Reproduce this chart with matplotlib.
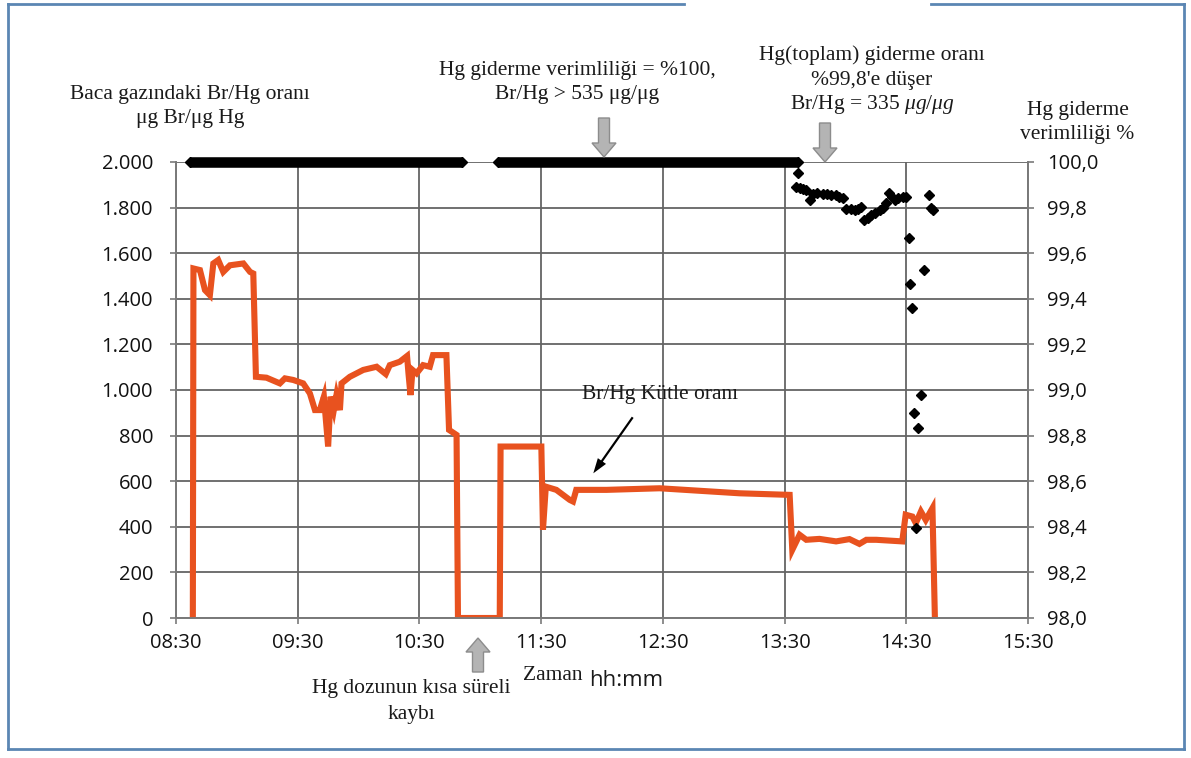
import matplotlib
matplotlib.use('Agg')
import matplotlib.pyplot as plt
from matplotlib.patches import FancyArrow
from matplotlib.lines import Line2D

# ── Data (minutes after 08:30) ───────────────────────────────────────────────
TIME_TICKS = [0, 60, 120, 180, 240, 300, 360, 420]
TIME_LABELS = ['08:30', '09:30', '10:30', '11:30', '12:30', '13:30', '14:30', '15:30']

LEFT_TICKS = [0, 200, 400, 600, 800, 1000, 1200, 1400, 1600, 1800, 2000]
LEFT_LABELS = ['0', '200', '400', '600', '800', '1.000', '1.200', '1.400',
               '1.600', '1.800', '2.000']
RIGHT_TICKS = [98.0, 98.2, 98.4, 98.6, 98.8, 99.0, 99.2, 99.4, 99.6, 99.8, 100.0]
RIGHT_LABELS = ['98,0', '98,2', '98,4', '98,6', '98,8', '99,0', '99,2', '99,4',
                '99,6', '99,8', '100,0']

# Br/Hg mass ratio (left axis)
BRHG_T = [8.3, 8.6, 11.8, 14.3, 16.7, 18.4, 20.8, 23.3, 26.6, 33.2, 36.5, 38.1,
          39.4, 44.6, 51.2, 53.7, 57.8, 62.7, 66.0, 68.5, 70.9, 72.9, 75.0, 76.2,
          77.8, 79.1, 80.8, 81.6, 85.7, 92.3, 98.9, 103.4, 105.4, 110.3, 113.9,
          114.6, 115.6, 116.6, 118.6, 121.8, 125.1, 126.7, 133.3, 134.6, 138.3,
          139.0, 159.6, 160.0, 180.1, 180.9, 182.3, 187.5, 194.1, 195.7, 197.3,
          212.2, 238.4, 277.8, 302.5, 303.8, 307.4, 310.7, 317.2, 325.4, 332.0,
          336.9, 340.3, 345.2, 358.0, 359.7, 363.0, 364.7, 367.2, 369.6, 372.9,
          374.1]
BRHG_V = [0, 1533, 1526, 1438, 1416, 1555, 1570, 1518, 1547, 1555, 1518, 1511,
          1058, 1054, 1029, 1051, 1044, 1029, 985, 912, 912, 971, 752, 971,
          912, 978, 912, 1029, 1058, 1088, 1102, 1070, 1109, 1124, 1149,
          1073, 978, 1088, 1073, 1109, 1102, 1153, 1153, 825, 803,
          0, 0, 752, 752, 387, 576, 562, 518, 511, 562,
          562, 569, 547, 540, 299, 365, 343, 347, 336, 346,
          325, 343, 343, 336, 453, 445, 416, 467, 430, 482,
          0]
TAIL_T = [374.1, 405.0]
TAIL_V = [0, 0]

# Hg removal efficiency (right axis)
BAND_START = [6.9, 158.6]
BAND_END = [141.0, 306.4]
BAND_VALUE = 100.0
EFF_T = [306.6, 305.8, 307.5, 309.0, 310.5, 312.3, 314.0, 316.0, 318.9, 321.0,
         323.0, 325.5, 327.0, 328.7, 330.4, 332.5, 334.5, 336.0, 337.8, 339.4,
         341.0, 342.7, 344.8, 346.8, 348.5, 350.1, 351.7, 353.0, 354.2, 356.0,
         358.3, 360.0, 361.2, 361.9, 362.7, 363.7, 364.9, 366.0, 367.3, 368.9,
         371.4, 372.3, 373.1]
EFF_V = [99.952, 99.89, 99.885, 99.88, 99.876, 99.832, 99.861, 99.862, 99.861, 99.858,
         99.856, 99.854, 99.848, 99.84, 99.796, 99.792, 99.79, 99.796, 99.803, 99.745,
         99.755, 99.767, 99.778, 99.788, 99.80, 99.818, 99.862, 99.845, 99.832, 99.84,
         99.847, 99.845, 99.665, 99.467, 99.358, 98.90, 98.394, 98.832, 98.978, 99.526,
         99.854, 99.80, 99.79]

# ── Style ─────────────────────────────────────────────────────────────────────
ORANGE = '#E8521F'
GRID = '#646464'
SPINE = '#7a7a7a'
SERIF = 'Liberation Serif'
SANS = 'Open Sans'

plt.rcParams['mathtext.fontset'] = 'custom'
plt.rcParams['mathtext.rm'] = SERIF
plt.rcParams['mathtext.it'] = SERIF + ':italic'

W, H = 1191, 758
fig = plt.figure(figsize=(W / 100, H / 100), dpi=100)
fig.patch.set_facecolor('white')
ax = fig.add_axes([176 / W, 1 - 618 / H, 852 / W, 456 / H])
ax2 = ax.twinx()

ax.plot(BRHG_T, BRHG_V, color=ORANGE, lw=4.4, solid_joinstyle='miter', zorder=3)
ax.plot(TAIL_T, TAIL_V, color='#8a8a8a', lw=1.2, zorder=3)

for s, e in zip(BAND_START, BAND_END):
    ax2.plot([s, e], [BAND_VALUE, BAND_VALUE], color='black', lw=7.6,
             solid_capstyle='butt', marker='D', markersize=5.4, zorder=4,
             clip_on=False)
ax2.plot(EFF_T, EFF_V, linestyle='none', marker='D', markersize=5.5,
         color='black', zorder=4, clip_on=False)

ax.set_xlim(0, 420)
ax.set_ylim(0, 2000)
ax2.set_ylim(98.0, 100.0)

ax.set_xticks(TIME_TICKS)
ax.set_xticklabels(TIME_LABELS)
ax.set_yticks(LEFT_TICKS)
ax.set_yticklabels(LEFT_LABELS)
ax2.set_yticks(RIGHT_TICKS)
ax2.set_yticklabels(RIGHT_LABELS)

ax.grid(True, color=GRID, lw=1.3)
ax.set_axisbelow(True)

for a in (ax, ax2):
    a.spines['top'].set_visible(False)
    for side in ('left', 'right', 'bottom'):
        a.spines[side].set_color(SPINE)
        a.spines[side].set_linewidth(1.3)
    a.tick_params(colors=SPINE, length=4.5, width=1.2, labelcolor='#111111',
                  labelsize=14.5)
    for lab in a.get_xticklabels() + a.get_yticklabels():
        lab.set_fontfamily(SANS)
ax.tick_params(axis='y', pad=12)
ax.tick_params(axis='x', pad=6)
ax2.tick_params(axis='y', pad=9)


# ── Annotations (figure pixel positions, measured from top) ──────────────────
def ftext(x, y, s, **kw):
    kw.setdefault('family', SERIF)
    kw.setdefault('fontsize', 15.5)
    kw.setdefault('color', '#1a1a1a')
    fig.text(x / W, 1 - y / H, s, ha=kw.pop('ha', 'center'), va='center', **kw)


def block_arrow(x, y_tail, y_tip):
    # vertical grey block arrow, pixel coords from the top edge
    arr = FancyArrow(x / 100, (H - y_tail) / 100, 0, (y_tail - y_tip) / 100,
                     width=11 / 100, head_width=24 / 100, head_length=14 / 100,
                     length_includes_head=True, transform=fig.dpi_scale_trans,
                     facecolor='#b4b4b4', edgecolor='#8c8c8c', lw=1.0)
    fig.add_artist(arr)


ftext(190, 95, 'Baca gazındaki Br/Hg oranı')
ftext(190, 119, 'μg Br/μg Hg')
ftext(577, 70, 'Hg giderme verimliliği = %100,')
ftext(577, 95, 'Br/Hg > 535 μg/μg')
ftext(872, 55, 'Hg(toplam) giderme oranı')
ftext(872, 80, "%99,8'e düşer")
ftext(872, 105, r'Br/Hg = 335 $\mathit{μg/μg}$')
ftext(1078, 110, 'Hg giderme')
ftext(1077, 135, 'verimliliği %')
ftext(660, 394, 'Br/Hg Kütle oranı')
ftext(553, 676, 'Zaman')
ftext(589, 680, 'hh:mm', family=SANS, fontsize=16, ha='left')
ftext(411, 689, 'Hg dozunun kısa süreli')
ftext(411, 715, 'kaybı')

block_arrow(604, 118, 157)
block_arrow(825, 123, 162)
block_arrow(478, 672, 638)

fig.add_artist(FancyArrow(632.7 / 100, (H - 417.3) / 100, -39.4 / 100, -56 / 100,
                          width=2.2 / 100, head_width=10 / 100, head_length=15 / 100,
                          length_includes_head=True, transform=fig.dpi_scale_trans,
                          color='black', lw=0))

# Outer blue frame (open at the top middle)
FRAME = '#5b86b3'
for xs, ys in [((8, 8), (4, 749)), ((8, 1184), (749, 749)), ((1184, 1184), (4, 749)),
               ((8, 684), (4, 4)), ((931, 1184), (4, 4))]:
    fig.add_artist(Line2D([x / W for x in xs], [1 - y / H for y in ys],
                          color=FRAME, lw=2.0, transform=fig.transFigure))

fig.savefig('out.png', dpi=100, facecolor='white')
